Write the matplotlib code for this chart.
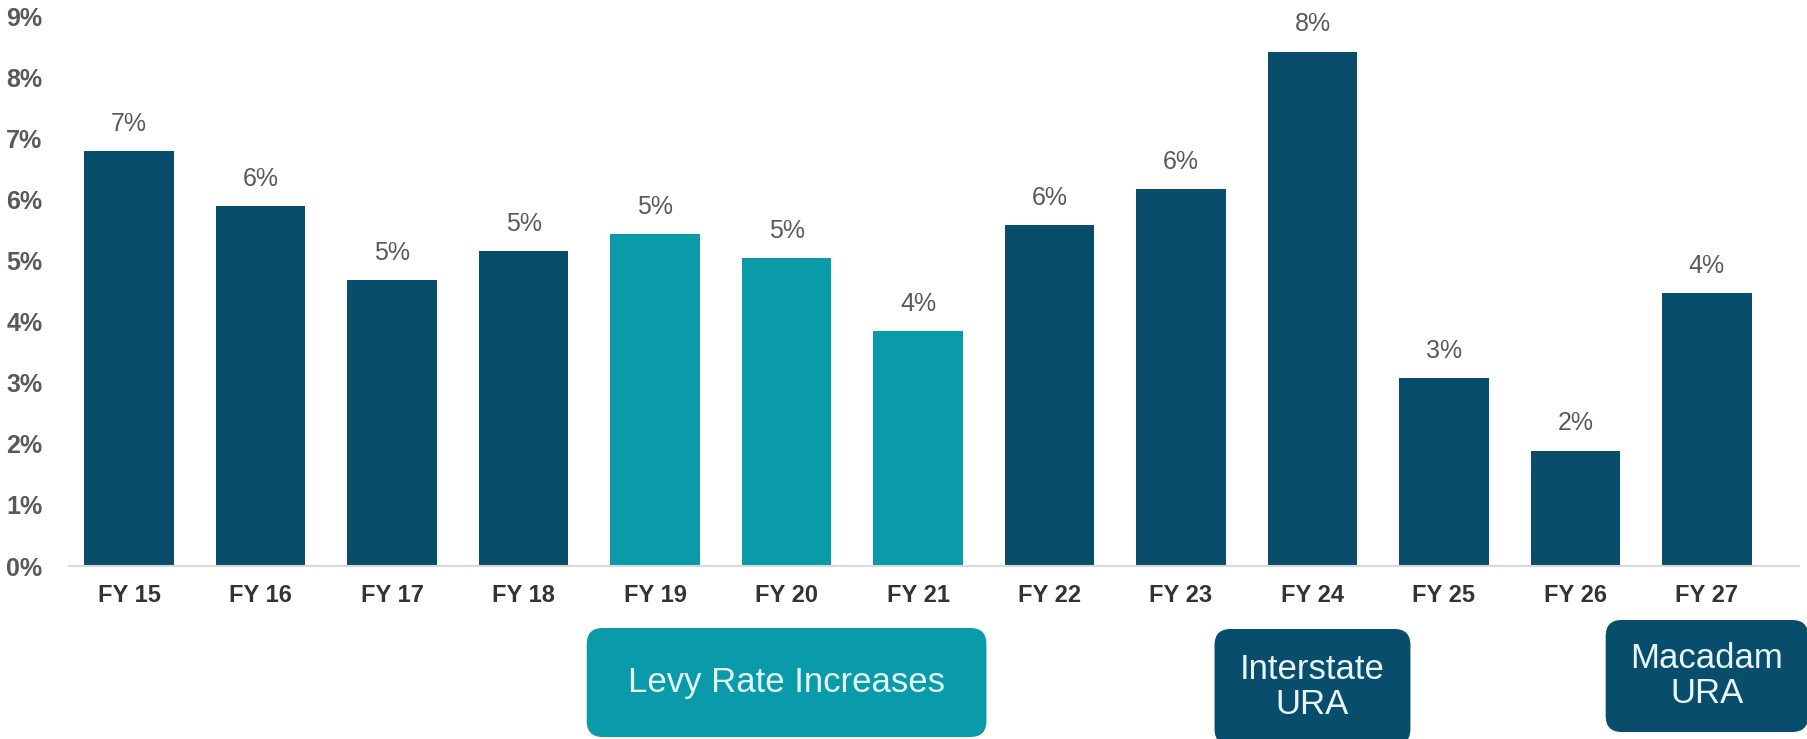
import numpy as np
import matplotlib
matplotlib.use('Agg')
import matplotlib.pyplot as plt
from matplotlib.patches import FancyBboxPatch
from matplotlib.transforms import IdentityTransform

plt.rcParams['font.family'] = ['Liberation Sans', 'DejaVu Sans']

# data
years = ['FY 15', 'FY 16', 'FY 17', 'FY 18', 'FY 19', 'FY 20', 'FY 21',
         'FY 22', 'FY 23', 'FY 24', 'FY 25', 'FY 26', 'FY 27']
growth = [6.79, 5.89, 4.68, 5.15, 5.43, 5.04, 3.85,
          5.58, 6.17, 8.42, 3.08, 1.89, 4.47]
levy_years = ['FY 19', 'FY 20', 'FY 21']

# annotation boxes: (label, centre bar, width in bars, colour)
notes = [
    ('Levy Rate Increases', 'FY 20', 3.04, 'teal'),
    ('Interstate\nURA', 'FY 24', 1.49, 'navy'),
    ('Macadam\nURA', 'FY 27', 1.54, 'navy'),
]

NAVY = '#084E6C'
TEAL = '#0A9BAA'
GREY = '#595959'

W, H = 1808, 739
fig = plt.figure(figsize=(W / 100, H / 100), dpi=100)
ax = fig.add_axes([0.038, 0.234, 0.957, 0.744])

x = np.arange(len(years))
colors = [TEAL if y in levy_years else NAVY for y in years]
bars = ax.bar(x, growth, width=0.68, color=colors, zorder=2)

for xi, v in zip(x, growth):
    ax.text(xi, v + 0.25, f'{v:.0f}%', ha='center', va='bottom',
            fontsize=18, color=GREY)

ax.set_xlim(-0.46, 12.7)
ax.set_ylim(0, 9)
ax.set_yticks(range(10))
ax.set_yticklabels([f'{i}%' for i in range(10)], fontsize=18,
                   fontweight='bold', color=GREY)
ax.set_xticks(x)
ax.set_xticklabels(years, fontsize=17, fontweight='bold', color='#333333')
ax.tick_params(axis='y', length=0, pad=19)
ax.tick_params(axis='x', length=0, pad=13)

for side in ['top', 'right', 'left']:
    ax.spines[side].set_visible(False)
ax.spines['bottom'].set_color('#d9d9d9')
ax.spines['bottom'].set_linewidth(1.5)

# boxes below the axis, positioned on the bar centres
fig.canvas.draw()
box_geom = {'teal': (628, 737, TEAL, '#e3f6f8'),
            'navy': (629, 745, NAVY, '#e8f4f8')}
box_geom_mac = (620, 732)
for label, yr, wbars, kind in notes:
    xc = ax.transData.transform((years.index(yr), 0))[0]
    half = ax.transData.transform((wbars / 2, 0))[0] - ax.transData.transform((0, 0))[0]
    top, bot, fc, tc = box_geom[kind]
    if yr == 'FY 27':
        top, bot = box_geom_mac
    y0 = H - bot
    y1 = H - top
    r = 16
    patch = FancyBboxPatch((xc - half + r, y0 + r), 2 * half - 2 * r, (y1 - y0) - 2 * r,
                           boxstyle=f'round,pad={r},rounding_size={r}',
                           fc=fc, ec='none', transform=IdentityTransform())
    fig.patches.append(patch)
    fig.text(xc / W, (y0 + y1) / 2 / H, label, ha='center', va='center',
             fontsize=25, color=tc, linespacing=1.1)

plt.savefig('out.png', dpi=100)
